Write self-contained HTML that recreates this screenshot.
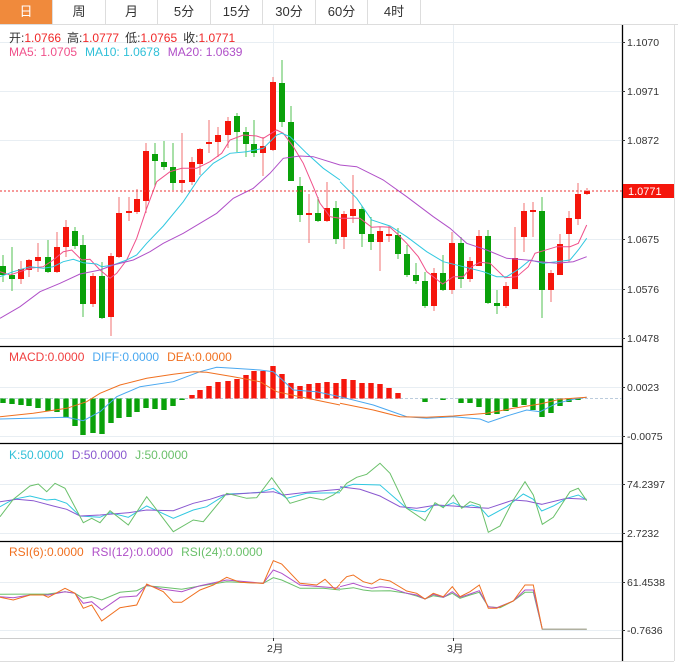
<!DOCTYPE html>
<html><head><meta charset="utf-8"><style>
body{margin:0;background:#fff;width:678px;height:668px;overflow:hidden;font-family:"Liberation Sans","Noto Sans CJK SC",sans-serif}
.tabs{position:absolute;left:0;top:0;height:24px;width:678px;border-bottom:1px solid #ddd}
.tab{position:absolute;top:0;height:24px;line-height:24px;text-align:center;font-size:13px;color:#333;border-right:1px solid #ddd}
.hd{position:absolute;left:9px;font-size:12px;white-space:pre}
</style></head><body>
<div class="tabs">
<div class="tab" style="left:0;width:52px;background:#f08a3c;color:#fff">日</div>
<div class="tab" style="left:53px;width:52px">周</div>
<div class="tab" style="left:106px;width:51px">月</div>
<div class="tab" style="left:158px;width:52px">5分</div>
<div class="tab" style="left:211px;width:51px">15分</div>
<div class="tab" style="left:263px;width:52px">30分</div>
<div class="tab" style="left:316px;width:51px">60分</div>
<div class="tab" style="left:368px;width:52px">4时</div>
</div>
<svg id="s" width="678" height="668" style="position:absolute;left:0;top:0" xmlns="http://www.w3.org/2000/svg" font-family="Liberation Sans, Noto Sans CJK SC, sans-serif">
<g stroke="#e8eef3" stroke-width="1">
<line x1="0" x2="622" y1="42.5" y2="42.5"/><line x1="0" x2="622" y1="91.5" y2="91.5"/><line x1="0" x2="622" y1="140.5" y2="140.5"/><line x1="0" x2="622" y1="239.5" y2="239.5"/><line x1="0" x2="622" y1="289.5" y2="289.5"/><line x1="0" x2="622" y1="338.5" y2="338.5"/>
<line x1="0" x2="622" y1="387.5" y2="387.5"/><line x1="0" x2="622" y1="436.5" y2="436.5"/>
<line x1="0" x2="622" y1="484.5" y2="484.5"/><line x1="0" x2="622" y1="533.5" y2="533.5"/>
<line x1="0" x2="622" y1="582.5" y2="582.5"/><line x1="0" x2="622" y1="630.5" y2="630.5"/>
<line x1="273.5" x2="273.5" y1="25" y2="638"/><line x1="453.5" x2="453.5" y1="25" y2="638"/>
</g>
<g stroke="#000" stroke-width="1.3">
<line x1="0" x2="622" y1="346.5" y2="346.5"/><line x1="0" x2="622" y1="443.5" y2="443.5"/><line x1="0" x2="622" y1="541.5" y2="541.5"/>
<line x1="622.5" x2="622.5" y1="25" y2="661"/>
</g>
<line x1="0" x2="622" y1="638.5" y2="638.5" stroke="#ccc"/>
<line x1="0" x2="674" y1="661.5" y2="661.5" stroke="#ddd"/>
<line x1="674.5" x2="674.5" y1="25" y2="661" stroke="#ddd"/>
<line x1="0" x2="622" y1="398.5" y2="398.5" stroke="#bcd" stroke-dasharray="3,2"/>
<g id="cand"></g>
<g id="lines" fill="none"></g>
<line x1="0" x2="622" y1="191" y2="191" stroke="#e33" stroke-dasharray="2,2"/>
<rect x="623" y="184" width="51" height="14" fill="#f5160c"/>
<text x="628" y="195" font-size="11" fill="#fff">1.0771</text>
<g font-size="10.5" fill="#333">
<text x="627" y="46">1.1070</text><text x="627" y="95">1.0971</text><text x="627" y="144">1.0872</text><text x="627" y="243">1.0675</text><text x="627" y="293">1.0576</text><text x="627" y="342">1.0478</text>
<text x="627" y="391">0.0023</text><text x="627" y="440">-0.0075</text>
<text x="627" y="488">74.2397</text><text x="627" y="537">2.7232</text>
<text x="627" y="586">61.4538</text><text x="627" y="634">-0.7636</text>
<text x="267" y="652">2月</text><text x="447" y="652">3月</text>
</g>
<g stroke="#333"><line x1="622" x2="625" y1="42.5" y2="42.5"/><line x1="622" x2="625" y1="91.5" y2="91.5"/><line x1="622" x2="625" y1="140.5" y2="140.5"/><line x1="622" x2="625" y1="239.5" y2="239.5"/><line x1="622" x2="625" y1="289.5" y2="289.5"/><line x1="622" x2="625" y1="338.5" y2="338.5"/><line x1="622" x2="625" y1="387.5" y2="387.5"/><line x1="622" x2="625" y1="436.5" y2="436.5"/><line x1="622" x2="625" y1="484.5" y2="484.5"/><line x1="622" x2="625" y1="533.5" y2="533.5"/><line x1="622" x2="625" y1="582.5" y2="582.5"/><line x1="622" x2="625" y1="630.5" y2="630.5"/><line x1="273.5" x2="273.5" y1="638" y2="641"/><line x1="453.5" x2="453.5" y1="638" y2="641"/></g>
<g font-size="12">
<text x="9" y="42"><tspan fill="#333">开:</tspan><tspan fill="#f02828">1.0766</tspan><tspan fill="#333" dx="6">高:</tspan><tspan fill="#f02828">1.0777</tspan><tspan fill="#333" dx="6">低:</tspan><tspan fill="#f02828">1.0765</tspan><tspan fill="#333" dx="6">收:</tspan><tspan fill="#f02828">1.0771</tspan></text>
<text x="9" y="56"><tspan fill="#f0508a">MA5: 1.0705</tspan><tspan fill="#30c0d8" dx="8">MA10: 1.0678</tspan><tspan fill="#b050c8" dx="8">MA20: 1.0639</tspan></text>
<text x="9" y="361"><tspan fill="#f04040">MACD:0.0000</tspan><tspan fill="#4aa8f0" dx="8">DIFF:0.0000</tspan><tspan fill="#f07020" dx="8">DEA:0.0000</tspan></text>
<text x="9" y="459"><tspan fill="#30c0d8">K:50.0000</tspan><tspan fill="#8a58d0" dx="8">D:50.0000</tspan><tspan fill="#6ac06a" dx="8">J:50.0000</tspan></text>
<text x="9" y="556"><tspan fill="#f07020">RSI(6):0.0000</tspan><tspan fill="#b050c8" dx="8">RSI(12):0.0000</tspan><tspan fill="#6ac06a" dx="8">RSI(24):0.0000</tspan></text>
</g>
</svg>
<script>
var NS="http://www.w3.org/2000/svg";
function el(p,t,a){var e=document.createElementNS(NS,t);for(var k in a)e.setAttribute(k,a[k]);p.appendChild(e);return e;}
var R="#f5160c",G="#0aa10a";
// x, dir(1 red), bodyTop, bodyBot, wickTop, wickBot
var C=[[3,0,266,275,255,282],[12,0,275,279,247,291],[21,1,269,279,261,284],[29,1,260,270,259,277],[38,1,257,261,243,272],[48,0,257,272,240,273],[57,1,247,272,232,273],[66,1,227,247,220,257],[75,0,231,246,227,249],[83,0,245,304,235,317],[93,1,276,304,273,307],[102,0,276,318,262,319],[111,1,256,317,253,336],[119,1,213,257,197,258],[129,1,211,213,197,221],[137,1,199,212,189,214],[146,1,151,201,143,213],[155,0,154,161,143,187],[164,0,162,167,141,170],[173,0,167,183,143,190],[182,1,180,183,133,193],[192,1,162,182,157,185],[200,1,149,164,148,175],[209,1,142,144,120,153],[218,1,135,142,127,157],[228,1,121,135,117,148],[237,0,116,132,113,152],[246,0,132,144,127,157],[254,0,144,153,120,157],[263,1,146,153,137,176],[273,1,82,150,77,151],[282,0,83,122,60,127],[291,0,122,181,106,181],[300,0,186,215,177,222],[309,1,213,215,194,243],[318,0,213,221,197,222],[327,1,208,221,182,222],[336,0,208,239,201,244],
[344,1,214,237,211,249],[353,1,209,216,175,223],[362,0,209,234,206,247],[371,0,234,242,217,250],[380,1,231,242,227,271],[389,1,234,236,226,242],[398,0,235,254,228,259],[407,0,254,275,245,277],[416,0,275,281,263,284],[425,0,281,306,272,308],[434,1,273,306,268,311],[443,0,273,290,255,291],[452,1,243,290,232,294],[461,0,243,279,237,288],[470,1,261,279,257,282],[479,1,236,266,230,266],[488,0,236,303,230,304],[497,0,303,306,290,314],[506,1,286,306,282,308],[515,1,258,289,227,289],[524,1,211,237,203,252],[533,1,210,212,202,237],[542,0,211,290,197,318],[551,1,273,290,270,302],[560,1,244,275,234,275],[569,1,218,234,211,262],[578,1,194,219,183,225],[587,1,191,194,188,195]];
var cg=document.getElementById("cand");
C.forEach(function(c){var col=c[1]?R:G;
el(cg,"line",{x1:c[0],x2:c[0],y1:c[4],y2:c[5],stroke:c[1]?"#f07070":"#50c050"});
el(cg,"rect",{x:c[0]-3,y:c[2],width:6,height:Math.max(1.5,c[3]-c[2]),fill:col});});
// MACD hist
var M=[403,404,405,406,408,411,412,417,426,435,433,434,423,418,417,412,408,409,410,406,400,395,390,386,382,381,379,375,371,371,366,374,383,386,384,383,382,383,379,380,383,383,384,388,393,398.5,399,402,398,400,398.5,403,403,407,415,414,411,407,405,410,417,413,406,402,400,398.5];
M.forEach(function(v,i){var x=C[i][0];var z=398.5;if(Math.abs(v-z)<0.6)return;
el(cg,"rect",{x:x-2.7,y:Math.min(v,z),width:5.4,height:Math.abs(v-z),fill:v<z?R:G});});
var lg=document.getElementById("lines");
function pl(ox,oy,pts,col,w){var s=[];for(var i=0;i<pts.length;i+=2)s.push((ox+pts[i]/3).toFixed(1)+","+(oy+pts[i+1]/3).toFixed(1));
el(lg,"polyline",{points:s.join(" "),stroke:col,"stroke-width":w||1,fill:"none"});}
var MA5c="#f0508a",MA10c="#30c8e0",MA20c="#b050c8";
pl(0,120,[0,455,30,465,60,455,90,445,130,440,160,420,190,395,215,390,245,420,270,418,300,450,330,475,350,460,380,420,410,355,440,265,470,185,510,155,545,145,590,145,630,125,665,100,690,60,730,45,770,48,790,55,830,30,850,40,880,80,910,130,940,200,960,250,990,290,1020,295],MA5c);
pl(340,120,[0,295,60,295,95,322,120,320,150,322,170,340,200,370,235,410,260,455,308,492,340,470,370,470,395,440,420,427,450,430,495,473,530,470,565,440,585,400,650,380,690,380,715,370,740,315],MA5c);
pl(0,120,[0,470,40,455,90,440,130,445,160,440,190,425,220,418,250,428,290,432,305,440,340,435,380,420,410,405,440,370,490,318,550,245,600,170,640,130,690,100,740,95,790,85,830,45,845,40,870,50,920,100,970,145,1020,180],MA10c);
pl(340,120,[0,185,50,235,95,300,150,318,200,350,260,395,310,425,370,440,430,455,470,470,500,470,540,445,570,420,610,430,650,425,690,420,715,390,740,355],MA10c);
pl(0,120,[0,595,60,560,120,515,180,490,240,462,300,450,340,435,400,420,450,395,490,370,550,340,600,310,650,280,700,235,760,205,810,160,850,115,900,108,940,110,1020,135],MA20c);
pl(340,120,[0,135,50,140,130,180,200,230,280,290,330,325,380,370,440,390,500,415,560,420,600,425,650,430,700,425,740,410],MA20c);
// MACD lines
pl(0,340,[0,237,200,232,250,242,300,215,350,170,420,140,520,125,560,110,600,95,650,82,700,85,780,90,820,95,880,150,950,155,1020,170],"#4aa8f0");
pl(340,340,[0,170,100,195,200,230,260,235,340,230,420,237,445,247,500,228,560,210,600,215,650,190,700,178,740,172],"#4aa8f0");
pl(0,340,[0,230,100,220,200,205,260,185,300,160,360,135,440,115,520,103,580,95,620,97,700,110,780,125,830,155,900,170,1020,195],"#f07020");
pl(340,340,[0,190,100,210,180,230,260,232,340,228,440,220,520,205,600,192,660,178,740,172],"#f07020");
// KDJ
pl(0,440,[0,200,40,178,90,168,140,180,165,178,200,190,240,228,300,232,330,218,385,232,440,198,520,235,580,210,620,200,680,162,740,160,780,157,820,145,860,175,920,160,1020,158],"#30c8e0");
pl(340,440,[0,145,40,133,120,135,200,205,230,212,255,215,285,193,310,200,340,188,370,202,395,195,420,202,445,230,500,200,550,162,580,178,605,213,640,198,680,175,715,165,740,180],"#30c8e0");
pl(0,440,[0,185,50,178,100,182,160,198,200,208,240,228,300,225,385,218,440,210,520,212,580,190,630,178,670,165,740,160,820,155,850,165,920,157,1020,148],"#8a58d0");
pl(340,440,[0,140,60,148,120,168,180,200,230,205,290,195,340,198,390,202,445,205,520,180,560,183,605,193,680,175,740,178],"#8a58d0");
pl(0,440,[0,230,40,178,90,138,115,132,140,155,165,130,195,145,250,248,275,235,300,248,330,212,385,255,440,170,520,275,580,240,610,245,680,160,740,175,770,173,815,113,870,190,930,172,970,180,1000,165,1020,150],"#6ac06a");
pl(340,440,[0,155,20,130,50,112,80,103,120,70,150,100,200,205,255,242,285,188,310,203,340,165,365,205,390,185,420,195,445,277,480,258,520,180,555,125,580,165,607,253,640,232,690,155,715,145,740,182],"#6ac06a");
// RSI
pl(0,540,[0,163,145,162,195,155,225,160,250,175,275,170,305,180,360,157,410,152,440,137,490,142,545,148,600,138,680,125,790,130,820,113,845,120,900,145,970,145,1020,150],"#6ac06a");
pl(340,540,[0,148,40,143,70,150,95,153,150,152,200,160,230,168,255,177,280,167,310,172,337,160,360,175,390,165,418,157,445,200,480,203,520,183,555,157,580,157,607,268,740,268],"#6ac06a");
pl(0,540,[0,170,40,173,90,165,145,165,195,155,225,160,250,190,275,185,305,210,360,172,410,168,440,135,490,148,545,155,600,137,680,120,790,130,820,90,845,100,900,135,1020,145],"#b050c8");
pl(340,540,[0,140,40,130,70,140,95,145,120,140,150,143,200,160,230,165,255,177,280,163,310,172,337,155,360,172,390,162,418,152,445,200,470,203,520,183,555,150,580,150,607,268],"#b050c8");
pl(0,540,[0,172,40,180,90,165,130,165,145,172,195,145,225,160,250,205,275,195,305,243,360,203,410,195,440,132,490,155,520,187,545,187,600,150,640,135,680,112,720,127,790,130,820,62,845,72,900,130,950,135,975,118,1005,148,1020,133],"#f07020");
pl(340,540,[0,130,20,110,40,105,70,125,95,132,120,117,150,123,200,153,230,160,255,177,280,160,310,170,337,140,360,170,390,155,418,135,445,205,470,205,520,183,555,135,580,135,607,268],"#f07020");
pl(340,540,[607,268,740,268],"#b0b0a0",1.5);
</script>
</body></html>
